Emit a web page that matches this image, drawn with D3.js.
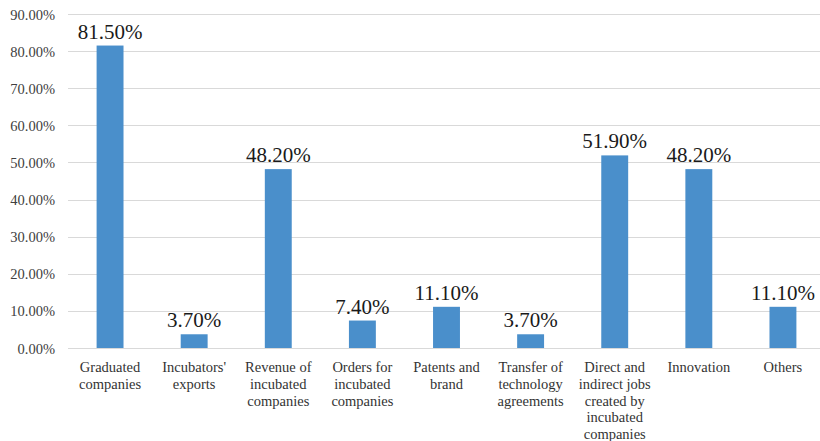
<!DOCTYPE html>
<html>
<head>
<meta charset="utf-8">
<script src="https://cdn.jsdelivr.net/npm/d3@7"></script>
<style>
  html, body { margin: 0; padding: 0; background: #fff; }
  svg { display: block; }
  svg text { font-family: "Liberation Serif", "Times New Roman", Tinos, "DejaVu Serif", serif; }
</style>
</head>
<body>
<svg id="chart" width="820" height="441"></svg>
<script>
// Category names, pre-wrapped into lines
const categories = [
  ["Graduated", "companies"],
  ["Incubators'", "exports"],
  ["Revenue of", "incubated", "companies"],
  ["Orders for", "incubated", "companies"],
  ["Patents and", "brand"],
  ["Transfer of", "technology", "agreements"],
  ["Direct and", "indirect jobs", "created by", "incubated", "companies"],
  ["Innovation"],
  ["Others"]
];
// Share of incubators reporting each indicator
const values = [0.815, 0.037, 0.482, 0.074, 0.111, 0.037, 0.519, 0.482, 0.111];
const yTicks = [0, 0.1, 0.2, 0.3, 0.4, 0.5, 0.6, 0.7, 0.8, 0.9];

const svg = d3.select("#chart");
const plot = { left: 68, right: 825, top: 14, bottom: 348 };

const x = d3.scaleBand()
  .domain(d3.range(categories.length))
  .range([plot.left, plot.right])
  .paddingInner(0.68)
  .paddingOuter(0.34);

const y = d3.scaleLinear()
  .domain([0, 0.9])
  .range([plot.bottom, plot.top]);

const pct = d3.format(".2%");

// Horizontal gridlines
svg.append("g")
  .selectAll("line")
  .data(yTicks)
  .join("line")
  .attr("x1", plot.left)
  .attr("x2", plot.right)
  .attr("y1", d => Math.round(y(d)) + 0.5)
  .attr("y2", d => Math.round(y(d)) + 0.5)
  .attr("stroke", "#d9d9d9")
  .attr("stroke-width", 1);

// Y axis labels
const yAxis = d3.axisLeft(y).tickValues(yTicks).tickFormat(pct).tickSize(0).tickPadding(0);
svg.append("g")
  .attr("transform", `translate(${plot.left - 13},0)`)
  .call(yAxis)
  .attr("font-family", null)
  .call(g => g.select(".domain").remove())
  .call(g => g.selectAll("text")
    .style("font-size", "14.5px")
    .attr("fill", "#404040")
    .attr("dy", "0.35em"));

// Bars
svg.append("g")
  .selectAll("rect")
  .data(values)
  .join("rect")
  .attr("x", (d, i) => x(i))
  .attr("y", d => y(d))
  .attr("width", x.bandwidth())
  .attr("height", d => y(0) - y(d))
  .attr("fill", "#4a8fcb");

// Value labels above bars
svg.append("g")
  .selectAll("text")
  .data(values)
  .join("text")
  .attr("x", (d, i) => x(i) + x.bandwidth() / 2)
  .attr("y", d => y(d) - 7)
  .attr("text-anchor", "middle")
  .style("font-size", "21px")
  .attr("fill", "#1a1a1a")
  .text(d => pct(d));

// Category labels under the axis
const cat = svg.append("g")
  .selectAll("text")
  .data(categories)
  .join("text")
  .attr("x", (d, i) => x(i) + x.bandwidth() / 2)
  .attr("y", 372)
  .attr("text-anchor", "middle")
  .style("font-size", "14.5px")
  .attr("fill", "#333");
cat.selectAll("tspan")
  .data(d => d)
  .join("tspan")
  .attr("x", function () { return d3.select(this.parentNode).attr("x"); })
  .attr("dy", (d, i) => i === 0 ? 0 : 16.8)
  .text(d => d);
</script>
</body>
</html>
